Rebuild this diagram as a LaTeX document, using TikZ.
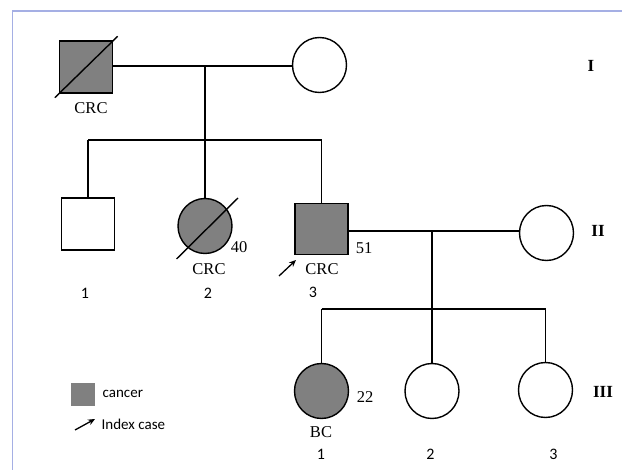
\documentclass[tikz,border=0pt]{standalone}
\usepackage{fontspec}
\setmainfont{Liberation Serif}
\newfontfamily\legendfont{Carlito}
\usetikzlibrary{shapes.geometric,arrows.meta}
\definecolor{affected}{RGB}{128,128,128}
\definecolor{framecol}{RGB}{165,175,228}

\begin{document}
\begin{tikzpicture}[x=1pt,y=-1pt,
  line width=1.4pt,
  male/.style={draw, rectangle, minimum width=53pt, minimum height=52pt, inner sep=0pt},
  female/.style={draw, ellipse, minimum width=54pt, minimum height=55pt, inner sep=0pt},
  hit/.style={fill=affected},
  lbl/.style={font=\fontsize{16.5}{16.5}\selectfont, inner sep=0pt},
  num/.style={font=\legendfont\fontsize{16}{16}\selectfont, inner sep=0pt},
  keytext/.style={font=\legendfont\fontsize{15}{15}\selectfont, inner sep=0pt},
  gen/.style={font=\bfseries\fontsize{17}{17}\selectfont, inner sep=0pt},
  idx/.style={-{Stealth[length=7pt,width=6pt]}, line width=1.3pt},
]
\useasboundingbox (0,0) rectangle (622,470);
\fill[white] (0,0) rectangle (622,470);
\draw[framecol, line width=1.2pt] (12.5,470) -- (12.5,11) -- (622,11);

% Generation I
\node[male, hit] (I1) at (86,67) {};
\node[female] (I2) at (319.5,65) {};
\draw ([shift={(-4,4)}]I1.south west) -- ([shift={(4.5,-4)}]I1.north east);
\coordinate (m1) at (205,66);
\coordinate (s1) at (205,140);
\draw (I1.east |- m1) -- (I2.west |- m1);
\draw (m1) -- (s1);
\node[lbl] (I1c) at (91,108) {CRC};
\node[gen] (gI) at (591,66) {I};

% Generation II
\node[male] (II1) at (88,224) {};
\node[female, hit] (II2) at (205,226) {};
\draw ([shift={(-28.5,33)}]II2.center) -- ([shift={(33,-28)}]II2.center);
\node[male, minimum height=51pt, hit] (II3) at (321.5,229) {};
\node[female] (II4) at (546.5,233) {};
\coordinate (s1l) at (88,140);
\coordinate (s1r) at (321.5,140);
\draw (s1l) -- (s1r);
\draw (s1l) -- (II1.north);
\draw (s1) -- (II2.north);
\draw (s1r) -- (II3.north);
\coordinate (m2) at (432,231);
\coordinate (s2) at (432,309);
\draw (II3.east |- m2) -- (II4.west |- m2);
\draw (m2) -- (s2);

\node[lbl] (age2) at (239,247) {40};
\node[lbl] (c2) at (209,269) {CRC};
\node[num] (n1) at (85,293) {1};
\node[num] (n2) at (208,293) {2};
\node[lbl] (age3) at (364,248) {51};
\node[lbl] (c3) at (322,269) {CRC};
\node[num] (n3) at (313,292) {3};
\coordinate (a3s) at (279,276);
\coordinate (a3e) at (296,260);
\draw[idx] (a3s) -- (a3e);
\node[gen] (gII) at (598,231) {II};

% Generation III
\node[female, hit] (III1) at (321.5,391) {};
\node[female] (III2) at (432,391) {};
\node[female] (III3) at (545.5,390) {};
\coordinate (s2l) at (321.5,309);
\coordinate (s2r) at (545.5,309);
\draw (s2l) -- (s2r);
\draw (s2l) -- (III1.north);
\draw (s2) -- (III2.north);
\draw (s2r) -- (III3.north);
\node[lbl] (age31) at (365,397) {22};
\node[lbl] (bc) at (321,432) {BC};
\node[num] (m31) at (321,454) {1};
\node[num] (m32) at (430.5,454) {2};
\node[num] (m33) at (553.5,454) {3};
\node[gen] (gIII) at (603,392) {III};

% Legend
\node[fill=affected, minimum width=24pt, minimum height=23pt, inner sep=0pt] (key) at (83,394.5) {};
\node[keytext, anchor=west] (keyt) at (102,394) {cancer};
\coordinate (ks) at (75,430);
\coordinate (ke) at (95,419);
\draw[idx] (ks) -- (ke);
\node[keytext, anchor=west] (idxt) at (101,424) {Index case};
\end{tikzpicture}
\end{document}
